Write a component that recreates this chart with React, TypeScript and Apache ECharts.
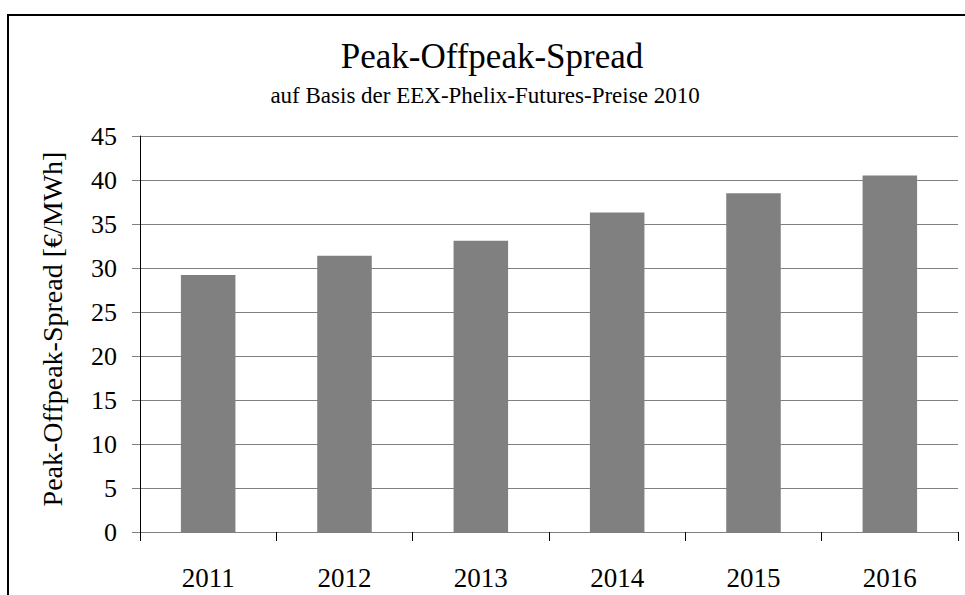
import React, { useEffect, useRef } from "react";
import * as echarts from "echarts";

const categories = ["2011", "2012", "2013", "2014", "2015", "2016"];
const spreadValues = [29.2, 31.4, 33.1, 36.3, 38.5, 40.5];
const titleText = "Peak-Offpeak-Spread";
const subtitleText = "auf Basis der EEX-Phelix-Futures-Preise 2010";
const yAxisName = "Peak-Offpeak-Spread [€/MWh]";

const FONT = "Liberation Serif";

export default function App() {
  const ref = useRef<HTMLDivElement>(null);
  useEffect(() => {
    if (!ref.current) return;
    const chart = echarts.init(ref.current, null, { renderer: "svg" });
    chart.setOption({
      animation: false,
      backgroundColor: "#ffffff",
      textStyle: { fontFamily: FONT },
      grid: { left: 140, right: 7, top: 136, bottom: 63, containLabel: false },
      graphic: [
        {
          type: "rect",
          shape: { x: 8, y: 15, width: 1000, height: 1000 },
          style: { fill: "none", stroke: "#000000", lineWidth: 2 },
          silent: true,
        },
        {
          type: "text",
          x: 492,
          y: 56,
          style: {
            text: titleText,
            fill: "#000000",
            fontFamily: FONT,
            fontSize: 35,
            textAlign: "center",
            textVerticalAlign: "middle",
          },
        },
        {
          type: "text",
          x: 485,
          y: 95,
          style: {
            text: subtitleText,
            fill: "#000000",
            fontFamily: FONT,
            fontSize: 23,
            textAlign: "center",
            textVerticalAlign: "middle",
          },
        },
        {
          type: "text",
          x: 52,
          y: 329,
          rotation: Math.PI / 2,
          style: {
            text: yAxisName,
            fill: "#000000",
            fontFamily: FONT,
            fontSize: 28,
            textAlign: "center",
            textVerticalAlign: "middle",
          },
        },
      ],
      xAxis: {
        type: "category",
        data: categories,
        boundaryGap: true,
        axisLine: { show: true, lineStyle: { color: "#808080", width: 1 } },
        axisTick: {
          show: true,
          alignWithLabel: false,
          length: 9,
          lineStyle: { color: "#000000", width: 1 },
        },
        axisLabel: {
          color: "#000000",
          fontFamily: FONT,
          fontSize: 27,
          margin: 32,
        },
        splitLine: { show: false },
      },
      yAxis: {
        type: "value",
        min: 0,
        max: 45,
        interval: 5,
        axisLine: { show: true, lineStyle: { color: "#000000", width: 1 } },
        axisTick: {
          show: true,
          length: 8,
          lineStyle: { color: "#808080", width: 1 },
        },
        axisLabel: {
          color: "#000000",
          fontFamily: FONT,
          fontSize: 26,
          margin: 23,
        },
        splitLine: { show: true, lineStyle: { color: "#808080", width: 1 } },
      },
      series: [
        {
          type: "bar",
          data: spreadValues,
          barWidth: "40%",
          itemStyle: { color: "#808080" },
        },
      ],
    });
    return () => chart.dispose();
  }, []);
  return (
    <div
      ref={ref}
      style={{ position: "absolute", left: 0, top: 0, width: 965, height: 595 }}
    />
  );
}
